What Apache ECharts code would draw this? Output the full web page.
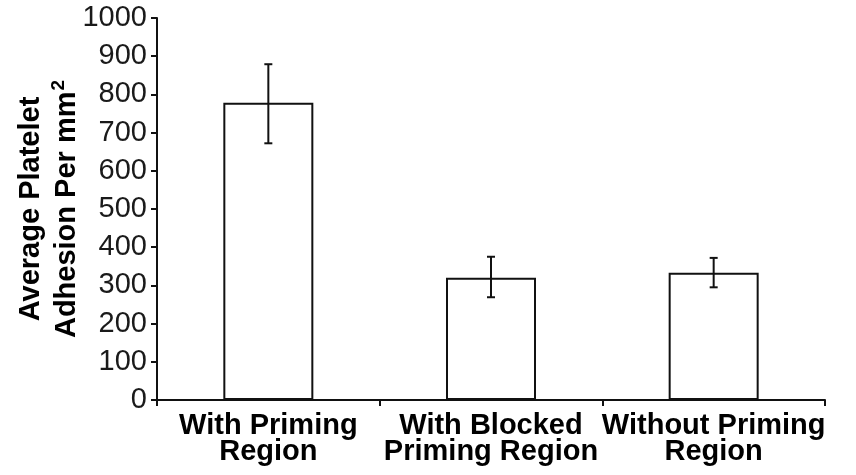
<!DOCTYPE html>
<html><head><meta charset="utf-8">
<script src="https://cdn.jsdelivr.net/npm/echarts@6/dist/echarts.min.js"></script>
<style>html,body{margin:0;padding:0;background:#fff}#c{width:856px;height:475px}</style>
</head><body><div id="c"></div>
<script>
var categories = ['With Priming\nRegion', 'With Blocked\nPriming Region', 'Without Priming\nRegion'];
var means = [778, 320, 333];
var errLow = [672, 269, 295];
var errHigh = [879, 375, 372];
var yTicks = [0, 100, 200, 300, 400, 500, 600, 700, 800, 900, 1000];

var chart = echarts.init(document.getElementById('c'));
var errData = categories.map(function (c, i) { return [i, errLow[i], errHigh[i]]; });
chart.setOption({
  animation: false,
  grid: { left: 157, right: 31, top: 18, bottom: 75, containLabel: false, outerBoundsMode: 'none' },
  xAxis: {
    type: 'category', data: categories,
    axisLine: { lineStyle: { color: '#111', width: 2 } },
    axisTick: { show: true, length: 6, lineStyle: { color: '#111', width: 2 } },
    axisLabel: { color: '#000', fontFamily: 'Liberation Sans', fontWeight: 'bold', fontSize: 29, lineHeight: 26, margin: 13, interval: 0, hideOverlap: false }
  },
  yAxis: {
    type: 'value', min: 0, max: 1000, interval: 100,
    name: '{a|Average Platelet}\n{a|Adhesion Per mm}{sup|2}',
    nameLocation: 'middle', nameGap: 72, nameRotate: 90, nameMoveOverlap: false,
    nameTextStyle: { color: '#000', fontFamily: 'Liberation Sans', fontWeight: 'bold', fontSize: 29, lineHeight: 36,
      rich: {
        a: { color: '#000', fontFamily: 'Liberation Sans', fontWeight: 'bold', fontSize: 29, lineHeight: 36 },
        sup: { color: '#000', fontFamily: 'Liberation Sans', fontWeight: 'bold', fontSize: 19, lineHeight: 36, verticalAlign: 'top', padding: [0, 0, 14, 1] }
      } },
    axisLine: { show: true, lineStyle: { color: '#111', width: 2 } },
    axisTick: { show: true, length: 6, lineStyle: { color: '#111', width: 2 } },
    splitLine: { show: false },
    axisLabel: { color: '#1a1a1a', fontFamily: 'Liberation Sans', fontSize: 29, margin: 10,
      formatter: function (v) { return yTicks.indexOf(v) >= 0 ? String(v) : ''; } }
  },
  series: [
    { type: 'bar', data: means, barWidth: 90,
      itemStyle: { color: '#fff', borderColor: '#111', borderWidth: 2 } },
    { type: 'custom', data: errData, z: 10,
      renderItem: function (params, api) {
        var x = api.value(0);
        var lo = api.coord([x, api.value(1)]);
        var hi = api.coord([x, api.value(2)]);
        var h = 4;
        var st = { stroke: '#111', lineWidth: 2 };
        return { type: 'group', children: [
          { type: 'line', shape: { x1: lo[0], y1: lo[1], x2: hi[0], y2: hi[1] }, style: st },
          { type: 'line', shape: { x1: lo[0] - h, y1: lo[1], x2: lo[0] + h, y2: lo[1] }, style: st },
          { type: 'line', shape: { x1: hi[0] - h, y1: hi[1], x2: hi[0] + h, y2: hi[1] }, style: st }
        ] };
      }
    }
  ]
});
</script></body></html>
